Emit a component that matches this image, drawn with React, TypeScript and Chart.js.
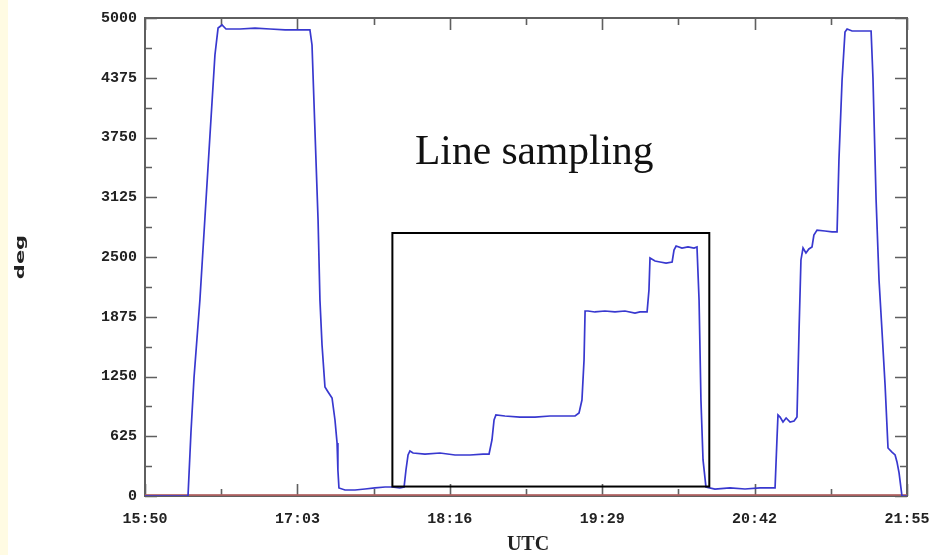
import { useEffect, useRef } from "react";
import { Chart, registerables } from "chart.js";

Chart.register(...registerables);

// Pointing angle telemetry, time in minutes after 00:00 UTC
const utcMinutes = [
  950, 970.6, 972.0, 973.5, 976.3, 978.7, 981.1, 983.5, 985.0, 986.9, 988.8,
  995.5, 1002.7, 1009.9, 1017.1, 1024.2, 1029.0,
  1030.0, 1031.4, 1032.9, 1033.8, 1034.8, 1036.2, 1037.7, 1039.6, 1041.0, 1042.0, 1042.4, 1042.9,
  1045.8, 1050.6, 1055.4, 1060.2, 1065.0, 1068.3, 1072.1, 1074.1,
  1075.0, 1076.0, 1076.9,
  1078.4, 1084.1, 1091.3, 1098.5, 1105.7, 1111.9, 1114.8,
  1116.2, 1117.2, 1118.1,
  1122.4, 1129.6, 1136.8, 1144.0, 1151.2, 1156.0, 1157.9,
  1159.3, 1160.3, 1160.8,
  1162.2, 1165.5, 1170.3, 1175.1, 1179.9, 1184.7, 1187.1, 1190.5,
  1191.4, 1191.9,
  1194.3, 1196.7, 1199.6, 1202.5,
  1203.4, 1204.4,
  1207.2, 1210.1, 1213.0, 1214.4,
  1215.4, 1216.3, 1217.3, 1218.7,
  1223.0, 1230.2, 1237.4, 1244.6, 1251.8,
  1252.7, 1253.2,
  1254.2, 1255.6, 1257.1, 1259.0, 1260.9, 1262.3,
  1263.3, 1264.2, 1265.2,
  1266.6, 1268.0, 1269.5, 1270.4, 1271.9,
  1275.7, 1279.1, 1281.5,
  1282.4, 1283.9, 1285.3, 1286.3,
  1288.7, 1292.5, 1295.4, 1297.8,
  1298.7, 1300.2, 1301.6, 1303.0, 1304.5, 1305.9, 1307.8, 1309.3, 1310.2, 1311.2, 1312.1, 1312.6, 1315,
];

const degValues = [
  0, 0, 659, 1245, 2050, 2908, 3766, 4613, 4895, 4927, 4885,
  4885, 4895, 4885, 4875, 4875, 4875,
  4718, 3828, 2887, 2050, 1580, 1140, 1088, 1025, 795, 554, 272, 84,
  63, 63, 73, 84, 94, 94, 84, 94,
  272, 429, 471,
  450, 439, 450, 429, 429, 439, 439,
  586, 795, 847,
  837, 826, 826, 837, 837, 837, 868,
  1004, 1423, 1935,
  1935, 1925, 1935, 1925, 1935, 1914, 1925, 1925,
  2155, 2490,
  2458, 2448, 2437, 2448,
  2573, 2615,
  2594, 2605, 2594, 2605,
  2050, 1004, 377, 94,
  73, 84, 73, 84, 84,
  586, 847,
  826, 774, 816, 774, 784, 826,
  1736, 2469, 2594,
  2542, 2584, 2605, 2730, 2782,
  2772, 2762, 2762,
  3515, 4351, 4854, 4885,
  4864, 4864, 4864, 4864,
  4372, 3096, 2259, 1736, 1161, 502, 460, 429, 356, 241, 84, 0, 0,
];

// Zero reference line
const baselineMinutes = [950, 1315];
const baselineValues = [0, 0];

// Axis ticks
const xMajorTicks = [950, 1023, 1096, 1169, 1242, 1315];
const xTickLabels = ["15:50", "17:03", "18:16", "19:29", "20:42", "21:55"];
const yMajorTicks = [0, 625, 1250, 1875, 2500, 3125, 3750, 4375, 5000];
const yTickLabels = ["0", "625", "1250", "1875", "2500", "3125", "3750", "4375", "5000"];

// Highlighted sampling window
const windowStartMinute = 1068.5;
const windowEndMinute = 1220.3;
const windowLowDeg = 99;
const windowHighDeg = 2751;
const annotationText = "Line sampling";

const withMinors = (majors: number[]) => {
  const out: number[] = [];
  majors.forEach((v, i) => {
    out.push(v);
    if (i < majors.length - 1) out.push((v + majors[i + 1]) / 2);
  });
  return out;
};

const xAllTicks = withMinors(xMajorTicks);
const yAllTicks = withMinors(yMajorTicks);

const labelFor = (majors: number[], labels: string[], v: number) => {
  const i = majors.findIndex((m) => Math.abs(m - v) < 1e-6);
  return i >= 0 ? labels[i] : "";
};

const FRAME = "#5f5f5f";
const MAJOR_LEN = 12;
const MINOR_LEN = 7;

const framePlugin = {
  id: "frameTicks",
  beforeDraw(chart: any) {
    const { ctx } = chart;
    ctx.save();
    ctx.fillStyle = "#ffffff";
    ctx.fillRect(0, 0, chart.width, chart.height);
    ctx.fillStyle = "#fffbe3";
    ctx.fillRect(0, 0, 8, chart.height);
    ctx.restore();
  },
  beforeDatasetsDraw(chart: any) {
    const { ctx, chartArea: a, scales } = chart;
    const xs = scales.x;
    const ys = scales.y;
    ctx.save();
    ctx.strokeStyle = FRAME;
    ctx.lineWidth = 2;
    ctx.strokeRect(a.left, a.top, a.right - a.left, a.bottom - a.top);
    ctx.lineWidth = 1.6;
    ctx.beginPath();
    xAllTicks.forEach((v) => {
      const len = labelFor(xMajorTicks, xTickLabels, v) ? MAJOR_LEN : MINOR_LEN;
      const px = Math.round(xs.getPixelForValue(v)) + 0.5;
      ctx.moveTo(px, a.bottom);
      ctx.lineTo(px, a.bottom - len);
      ctx.moveTo(px, a.top);
      ctx.lineTo(px, a.top + len);
    });
    yAllTicks.forEach((v) => {
      const len = labelFor(yMajorTicks, yTickLabels, v) ? MAJOR_LEN : MINOR_LEN;
      const py = Math.round(ys.getPixelForValue(v)) + 0.5;
      ctx.moveTo(a.left, py);
      ctx.lineTo(a.left + len, py);
      ctx.moveTo(a.right, py);
      ctx.lineTo(a.right - len, py);
    });
    ctx.stroke();
    ctx.restore();
  },
  afterDatasetsDraw(chart: any) {
    const { ctx, chartArea: a, scales } = chart;
    const xs = scales.x;
    const ys = scales.y;
    ctx.save();
    // sampling window box
    const l = xs.getPixelForValue(windowStartMinute);
    const r = xs.getPixelForValue(windowEndMinute);
    const t = ys.getPixelForValue(windowHighDeg);
    const b = ys.getPixelForValue(windowLowDeg);
    ctx.strokeStyle = "#000000";
    ctx.lineWidth = 2;
    ctx.strokeRect(l, t, r - l, b - t);

    // annotation
    ctx.fillStyle = "#111111";
    ctx.font = '41.5px "Liberation Serif"';
    ctx.textAlign = "left";
    ctx.textBaseline = "alphabetic";
    ctx.fillText(annotationText, 415, 164);

    // x axis title
    ctx.font = 'bold 20px "Liberation Serif"';
    ctx.textAlign = "center";
    ctx.fillStyle = "#222222";
    ctx.fillText("UTC", 528, 550);

    // y axis title
    ctx.translate(21, 257);
    ctx.rotate(-Math.PI / 2);
    ctx.scale(1.75, 1);
    ctx.font = 'bold 12px "DejaVu Sans"';
    ctx.textBaseline = "middle";
    ctx.fillText("deg", 0, 0);
    ctx.restore();
  },
};

export default function App() {
  const canvasRef = useRef<HTMLCanvasElement | null>(null);

  useEffect(() => {
    document.body.style.margin = "0";
    const canvas = canvasRef.current;
    if (!canvas) return;

    const tickFont = { family: '"Liberation Mono"', size: 15, weight: "bold" as const };

    const chart = new Chart(canvas, {
      type: "line",
      data: {
        datasets: [
          {
            label: "deg",
            data: utcMinutes.map((x, i) => ({ x, y: degValues[i] })),
            borderColor: "#3838cf",
            borderWidth: 1.7,
            pointRadius: 0,
            tension: 0,
          },
          {
            label: "zero",
            data: baselineMinutes.map((x, i) => ({ x, y: baselineValues[i] })),
            borderColor: "rgba(178, 96, 96, 0.85)",
            borderWidth: 4,
            pointRadius: 0,
          },
        ],
      },
      options: {
        responsive: false,
        animation: false,
        events: [],
        layout: { padding: { left: 0, top: 18, right: 33, bottom: 0 } },
        plugins: {
          legend: { display: false },
          tooltip: { enabled: false },
          title: { display: false },
        },
        scales: {
          x: {
            type: "linear",
            min: 950,
            max: 1315,
            grid: { display: false, drawTicks: false },
            border: { display: false },
            afterBuildTicks: (axis: any) => {
              axis.ticks = xAllTicks.map((value) => ({ value }));
            },
            afterFit: (axis: any) => {
              axis.height = 59;
              axis.paddingLeft = 0;
              axis.paddingRight = 0;
            },
            ticks: {
              autoSkip: false,
              maxRotation: 0,
              padding: 14,
              color: "#222222",
              font: tickFont,
              callback: (v: any) => labelFor(xMajorTicks, xTickLabels, Number(v)),
            },
          },
          y: {
            type: "linear",
            min: 0,
            max: 5000,
            grid: { display: false, drawTicks: false },
            border: { display: false },
            afterBuildTicks: (axis: any) => {
              axis.ticks = yAllTicks.map((value) => ({ value }));
            },
            afterFit: (axis: any) => {
              axis.width = 145;
              axis.paddingTop = 0;
              axis.paddingBottom = 0;
            },
            ticks: {
              autoSkip: false,
              padding: 8,
              color: "#222222",
              font: tickFont,
              callback: (v: any) => labelFor(yMajorTicks, yTickLabels, Number(v)),
            },
          },
        },
      },
      plugins: [framePlugin],
    });

    return () => chart.destroy();
  }, []);

  return (
    <div style={{ position: "fixed", left: 0, top: 0, width: 940, height: 555 }}>
      <canvas ref={canvasRef} width={940} height={555} />
    </div>
  );
}
